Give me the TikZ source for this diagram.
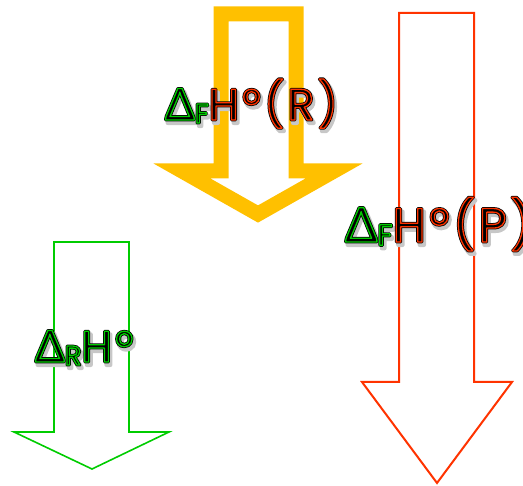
\documentclass[tikz,border=0pt]{standalone}
\usepackage{fontspec}
\setmainfont{Poppins}[LetterSpace=8]
\newfontfamily\gfont{Lato}[LetterSpace=8]
\definecolor{ayellow}{HTML}{FFC000}
\definecolor{ared}{HTML}{FF3300}
\definecolor{agreen}{HTML}{00CC00}
\newcommand\LA{}
\newcommand\LB{}
\newcommand\lab[3]{\fontsize{#1pt}{#1pt}\selectfont{\gfont\LA Δ}\raisebox{-0.07em}{\fontsize{\fpeval{0.62*#1}pt}{1pt}\selectfont\LA #2}\LB #3}
\newcommand\blackon{\special{pdf:code 2 Tr 2.8 w 1 j 0 0 0 RG 0 0 0 rg}\renewcommand\LA{}\renewcommand\LB{}}
\newcommand\shadowon{\special{pdf:code 2 Tr 4 w 1 j 0.78 0.78 0.78 RG 0.78 0.78 0.78 rg}\renewcommand\LA{}\renewcommand\LB{}}
\newcommand\lineon[2]{\special{pdf:code 1 Tr 1.3 w 1 j}\renewcommand\LA{\special{pdf:code #1 RG}}\renewcommand\LB{\special{pdf:code #2 RG}}}
\newcommand\textoff{\special{pdf:code 0 Tr}}
% one label: shadow, black body, coloured outline, stacked
\newcommand\wordart[5]{%
  \rlap{\hspace{2pt}\raisebox{-3pt}{\shadowon\lab{#1}{#2}{#3}\textoff}}%
  \rlap{\blackon\lab{#1}{#2}{#3}\textoff}%
  {\lineon{#4}{#5}\lab{#1}{#2}{#3}\textoff}}
\tikzset{
  yarrow/.style={draw=ayellow,line width=15pt,miter limit=10},
  rarrow/.style={draw=ared,line width=2pt},
  garrow/.style={draw=agreen,line width=1.6pt},
  lbl/.style={inner sep=0pt,outer sep=0pt,anchor=base west}
}
\begin{document}
\begin{tikzpicture}[x=1pt,y=-1pt]
\useasboundingbox (0,0) rectangle (523,486);
% arrows
\draw[yarrow] (221,14) -- (296,14) -- (296,171) -- (334,171) -- (258,214) -- (182,171) -- (221,171) -- cycle;
\draw[rarrow] (399,13) -- (474,13) -- (474,382) -- (512,382) -- (437,483) -- (362,382) -- (399,382) -- cycle;
\draw[garrow] (54,242) -- (129,242) -- (129,432) -- (169,432) -- (92,469) -- (14,432) -- (54,432) -- cycle;
% labels
\node[lbl] (fr) at (165,120) {\wordart{44}{F}{H°(R)}{0 0.8 0}{1 0.2 0}};
\node[lbl] (fp) at (345,242) {\wordart{48}{F}{H°(P)}{0 0.8 0}{1 0.2 0}};
\node[lbl] (rh) at (35,362) {\wordart{44}{R}{H°}{0 0.8 0}{0 0.8 0}};
\end{tikzpicture}
\end{document}
